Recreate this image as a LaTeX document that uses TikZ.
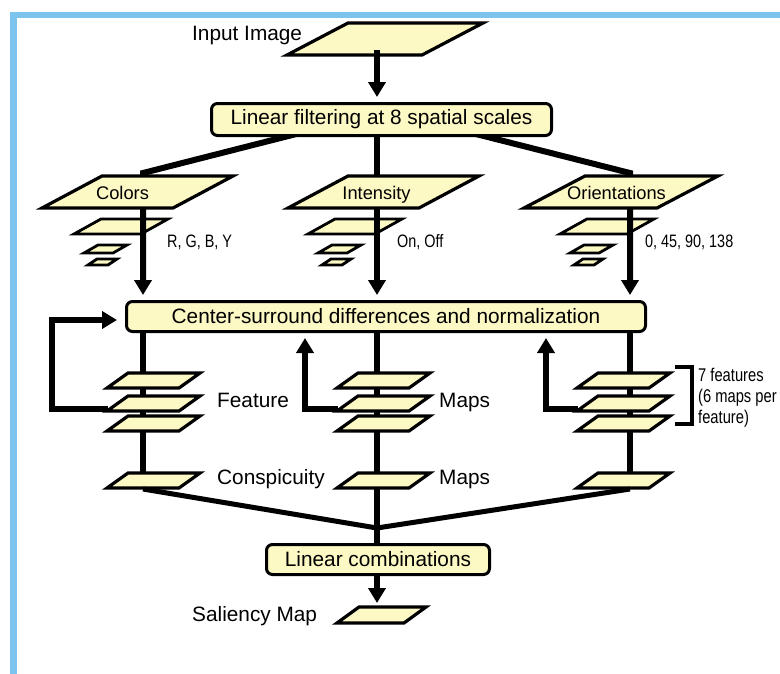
\documentclass[tikz,border=0pt]{standalone}
\usepackage{fontspec}
\setmainfont{Liberation Sans}
\newfontfamily\narrowfont[FakeStretch=0.8]{Liberation Sans}
\newfontfamily\semifont[FakeStretch=0.8]{Liberation Sans}
\usetikzlibrary{arrows.meta}
\definecolor{paleyellow}{RGB}{253,249,196}
\definecolor{frameblue}{RGB}{124,196,238}
\tikzset{
  plane/.style={fill=paleyellow,draw=black,line width=3.2pt,line join=miter},
  smallplane/.style={fill=paleyellow,draw=black,line width=2.8pt,line join=miter},
  procbox/.style={draw=black,fill=paleyellow,line width=3pt,rounded corners=6pt,inner sep=0pt,font=\fontsize{20.8}{24}\selectfont},
  conn/.style={line width=6pt,line join=miter},
  thinconn/.style={line width=5pt,line join=miter},
  arr/.style={-{Triangle[length=15pt,width=17pt]}},
  lbl/.style={font=\fontsize{20.8}{24}\selectfont,inner sep=0pt,anchor=base west},
  plbl/.style={font=\fontsize{18.3}{22}\selectfont,inner sep=0pt,anchor=base},
  nlbl/.style={font=\narrowfont\fontsize{18}{21}\selectfont,inner sep=0pt,anchor=base west},
  blbl/.style={font=\semifont\fontsize{18.4}{21}\selectfont,inner sep=0pt,anchor=base west},
  bracketline/.style={line width=3.5pt,line join=miter},
}
\newcommand{\drawplane}[6][plane]{\filldraw[#1] (#2,#3) -- ++(#4,0) -- ++(#5,-#6) -- ++(-#4,0) -- cycle;}
\newcommand{\drawpyramid}[1]{%
  \drawplane[smallplane]{#1-69}{234}{67}{27}{15}
  \drawplane[smallplane]{#1-59}{253}{29}{14}{8}
  \drawplane[smallplane]{#1-55}{265}{20}{9}{6}}
\begin{document}
\begin{tikzpicture}[x=1pt,y=-1pt]
\useasboundingbox (0,0) rectangle (780,673);
% frame
\fill[frameblue] (10,12) rectangle (17,690);
\fill[frameblue] (10,12) rectangle (800,18);

% box anchors (visible boxes drawn later on top)
\path (381.5,119.5) node[procbox,minimum width=340pt,minimum height=32pt,draw=none,fill=none,text opacity=0] (lf) {Linear filtering at 8 spatial scales};
\path (386,316.5) node[procbox,minimum width=519pt,minimum height=30pt,draw=none,fill=none,text opacity=0] (cs) {Center-surround differences and normalization};
\path (378,559.5) node[procbox,minimum width=223pt,minimum height=30pt,draw=none,fill=none,text opacity=0] (lc) {Linear combinations};

% coordinates
\coordinate (inB) at (377,50);
\coordinate (lfL) at (312,130);
\coordinate (lfR) at (460,130);
\coordinate (elC) at (143,173);
\coordinate (colI) at (377,173);
\coordinate (elO) at (630,173);
\coordinate (cpC) at (143,489);
\coordinate (cpI) at (377,489);
\coordinate (cpO) at (630,489);
\coordinate (jn) at (377,528);
\coordinate (salT) at (377,607);
\coordinate (fbLs) at (108,409);
\coordinate (fbLa) at (52,409);
\coordinate (fbLb) at (52,320);
\coordinate (fbMs) at (338,409);
\coordinate (fbMc) at (305,409);
\coordinate (fbRs) at (578,409);
\coordinate (fbRc) at (546,409);
\coordinate (brA) at (675,367);
\coordinate (brB) at (692,367);
\coordinate (brC) at (692,424);
\coordinate (brD) at (675,424);

% input image
\drawplane{287}{55}{135}{61}{32}
\draw[conn,arr,shorten >=5pt] (inB) -- (lf.north -| inB);

% pyramids (under the arrows)
\drawpyramid{143}
\drawpyramid{377}
\drawpyramid{629}

% arrows from filtering box to the center-surround box
\draw[conn,arr,shorten >=5pt] (lfL) -- (elC) -- (cs.north -| elC);
\draw[conn,arr,shorten >=5pt] (lf.south -| colI) -- (cs.north -| colI);
\draw[conn,arr,shorten >=5pt] (lfR) -- (elO) -- (cs.north -| elO);

% feature planes
\drawplane{42}{208}{131}{60}{32}
\drawplane{288}{208}{131}{60}{32}
\drawplane{524}{208}{133}{61}{32}
\node[plbl] (tCol) at (122.5,199) {Colors};
\node[plbl] (tInt) at (376.5,199) {Intensity};
\node[plbl] (tOri) at (616.5,199) {Orientations};

% lower verticals
\draw[conn] (cs.south -| cpC) -- (cpC);
\draw[conn] (cs.south -| cpO) -- (cpO);
\draw[conn] (cs.south -| cpI) -- (jn) -- (lc.north -| jn);

% feedback arrows
\draw[conn,arr,shorten >=8pt] (fbLs) -- (fbLa) -- (fbLb) -- (cs.west |- fbLb);
\draw[conn,arr,shorten >=5pt] (fbMs) -- (fbMc) -- (cs.south -| fbMc);
\draw[conn,arr,shorten >=5pt] (fbRs) -- (fbRc) -- (cs.south -| fbRc);

% feature map stacks and conspicuity maps
\foreach \xo in {107,337,577}{
  \drawplane{\xo}{388}{72}{21}{15}
  \drawplane{\xo}{411}{72}{21}{15}
  \drawplane{\xo}{431}{72}{21}{15}
  \drawplane{\xo}{488}{72}{21}{15}
}

% converging lines
\draw[thinconn] (cpC) -- (jn) -- (cpO);

% saliency
\draw[conn,arr,shorten >=4pt] (lc.south -| jn) -- (salT);
\drawplane{337}{623}{67}{22}{16}

% boxes drawn on top
\node[procbox,minimum width=340pt,minimum height=32pt] (lfv) at (lf) {Linear filtering at 8 spatial scales};
\node[procbox,minimum width=519pt,minimum height=30pt] (csv) at (cs) {Center-surround differences and normalization};
\node[procbox,minimum width=223pt,minimum height=30pt] (lcv) at (lc) {Linear combinations};

% bracket
\draw[bracketline] (brA) -- (brB) -- (brC) -- (brD);

% labels
\node[lbl] (tIn) at (192,40) {Input Image};
\node[nlbl] (tRGB) at (167,247) {R, G, B, Y};
\node[nlbl] (tOn) at (397,247) {On, Off};
\node[nlbl] (tAng) at (645,247) {0, 45, 90, 138};
\node[lbl] (tFe) at (217,407) {Feature};
\node[lbl] (tMa1) at (439,407) {Maps};
\node[lbl] (tCo) at (217,484) {Conspicuity};
\node[lbl] (tMa2) at (439,484) {Maps};
\node[lbl] (tSal) at (192,621) {Saliency Map};
\node[blbl] (tB1) at (698,381) {7 features};
\node[blbl] (tB2) at (698,402) {(6 maps per};
\node[blbl] (tB3) at (698,423) {feature)};
\end{tikzpicture}
\end{document}
